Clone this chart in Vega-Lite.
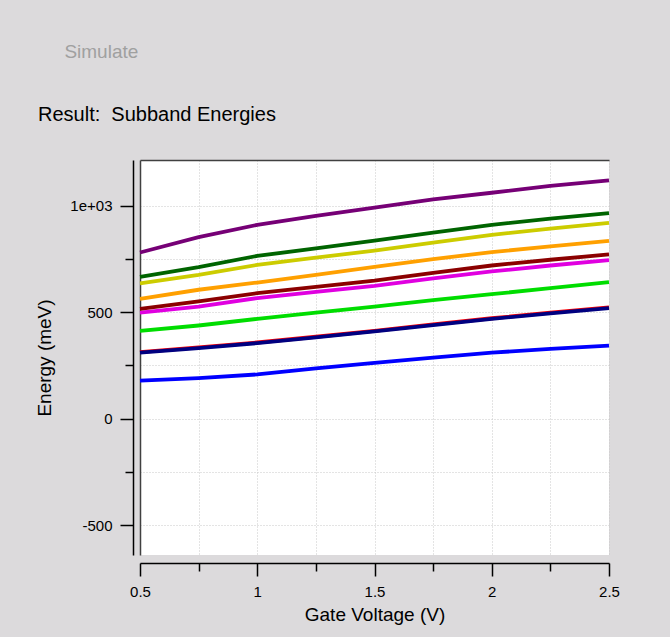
{
  "$schema": "https://vega.github.io/schema/vega-lite/v6.json",
  "width": 469,
  "height": 395,
  "autosize": {"type": "none"},
  "padding": {"left": 140, "top": 160, "right": 61, "bottom": 82},
  "background": "#dcdadc",
  "config": {"view": {"stroke": null, "fill": "white"}, "font": "Liberation Sans"},
  "title": {
    "text": "\u200b\u00a0\u00a0\u00a0\u00a0\u00a0Simulate",
    "subtitle": "Result:\u00a0\u00a0Subband Energies",
    "anchor": "start",
    "frame": "group",
    "dx": -102,
    "offset": 35,
    "fontSize": 19,
    "fontWeight": "normal",
    "color": "#a0a0a0",
    "subtitleColor": "black",
    "subtitleFontSize": 20,
    "subtitlePadding": 43,
    "font": "Liberation Sans",
    "subtitleFont": "Liberation Sans"
  },
  "datasets": {
    "d": [
      {"v": 0.5, "e": 179, "s": "E1"}, {"v": 0.75, "e": 191, "s": "E1"}, {"v": 1, "e": 208, "s": "E1"}, {"v": 1.25, "e": 236, "s": "E1"}, {"v": 1.5, "e": 262, "s": "E1"}, {"v": 1.75, "e": 287, "s": "E1"}, {"v": 2, "e": 310, "s": "E1"}, {"v": 2.25, "e": 328, "s": "E1"}, {"v": 2.5, "e": 343, "s": "E1"},
      {"v": 0.5, "e": 313, "s": "E2"}, {"v": 0.75, "e": 335, "s": "E2"}, {"v": 1, "e": 358, "s": "E2"}, {"v": 1.25, "e": 385, "s": "E2"}, {"v": 1.5, "e": 413, "s": "E2"}, {"v": 1.75, "e": 443, "s": "E2"}, {"v": 2, "e": 472, "s": "E2"}, {"v": 2.25, "e": 498, "s": "E2"}, {"v": 2.5, "e": 523, "s": "E2"},
      {"v": 0.5, "e": 310, "s": "E3"}, {"v": 0.75, "e": 332, "s": "E3"}, {"v": 1, "e": 355, "s": "E3"}, {"v": 1.25, "e": 382, "s": "E3"}, {"v": 1.5, "e": 410, "s": "E3"}, {"v": 1.75, "e": 440, "s": "E3"}, {"v": 2, "e": 469, "s": "E3"}, {"v": 2.25, "e": 495, "s": "E3"}, {"v": 2.5, "e": 520, "s": "E3"},
      {"v": 0.5, "e": 413, "s": "E4"}, {"v": 0.75, "e": 438, "s": "E4"}, {"v": 1, "e": 469, "s": "E4"}, {"v": 1.25, "e": 498, "s": "E4"}, {"v": 1.5, "e": 527, "s": "E4"}, {"v": 1.75, "e": 557, "s": "E4"}, {"v": 2, "e": 585, "s": "E4"}, {"v": 2.25, "e": 614, "s": "E4"}, {"v": 2.5, "e": 642, "s": "E4"},
      {"v": 0.5, "e": 498, "s": "E5"}, {"v": 0.75, "e": 527, "s": "E5"}, {"v": 1, "e": 567, "s": "E5"}, {"v": 1.25, "e": 596, "s": "E5"}, {"v": 1.5, "e": 624, "s": "E5"}, {"v": 1.75, "e": 660, "s": "E5"}, {"v": 2, "e": 692, "s": "E5"}, {"v": 2.25, "e": 720, "s": "E5"}, {"v": 2.5, "e": 745, "s": "E5"},
      {"v": 0.5, "e": 516, "s": "E6"}, {"v": 0.75, "e": 551, "s": "E6"}, {"v": 1, "e": 590, "s": "E6"}, {"v": 1.25, "e": 620, "s": "E6"}, {"v": 1.5, "e": 649, "s": "E6"}, {"v": 1.75, "e": 685, "s": "E6"}, {"v": 2, "e": 720, "s": "E6"}, {"v": 2.25, "e": 747, "s": "E6"}, {"v": 2.5, "e": 772, "s": "E6"},
      {"v": 0.5, "e": 563, "s": "E7"}, {"v": 0.75, "e": 606, "s": "E7"}, {"v": 1, "e": 640, "s": "E7"}, {"v": 1.25, "e": 676, "s": "E7"}, {"v": 1.5, "e": 714, "s": "E7"}, {"v": 1.75, "e": 750, "s": "E7"}, {"v": 2, "e": 783, "s": "E7"}, {"v": 2.25, "e": 810, "s": "E7"}, {"v": 2.5, "e": 836, "s": "E7"},
      {"v": 0.5, "e": 636, "s": "E8"}, {"v": 0.75, "e": 676, "s": "E8"}, {"v": 1, "e": 723, "s": "E8"}, {"v": 1.25, "e": 757, "s": "E8"}, {"v": 1.5, "e": 790, "s": "E8"}, {"v": 1.75, "e": 828, "s": "E8"}, {"v": 2, "e": 864, "s": "E8"}, {"v": 2.25, "e": 893, "s": "E8"}, {"v": 2.5, "e": 920, "s": "E8"},
      {"v": 0.5, "e": 667, "s": "E9"}, {"v": 0.75, "e": 712, "s": "E9"}, {"v": 1, "e": 765, "s": "E9"}, {"v": 1.25, "e": 800, "s": "E9"}, {"v": 1.5, "e": 837, "s": "E9"}, {"v": 1.75, "e": 875, "s": "E9"}, {"v": 2, "e": 911, "s": "E9"}, {"v": 2.25, "e": 940, "s": "E9"}, {"v": 2.5, "e": 966, "s": "E9"},
      {"v": 0.5, "e": 781, "s": "E10"}, {"v": 0.75, "e": 853, "s": "E10"}, {"v": 1, "e": 911, "s": "E10"}, {"v": 1.25, "e": 953, "s": "E10"}, {"v": 1.5, "e": 992, "s": "E10"}, {"v": 1.75, "e": 1031, "s": "E10"}, {"v": 2, "e": 1062, "s": "E10"}, {"v": 2.25, "e": 1094, "s": "E10"}, {"v": 2.5, "e": 1120, "s": "E10"}
    ]
  },
  "data": {"name": "d"},
  "layer": [
    {
      "transform": [{"filter": "datum.s === 'E2'"}],
      "mark": {"type": "line", "strokeWidth": 3.8},
      "encoding": {
        "x": {"field": "v", "type": "quantitative", "scale": {"domain": [0.5, 2.5], "nice": false, "zero": false},
          "axis": {"orient": "top", "offset": 0, "labels": false, "ticks": false, "grid": false, "title": null, "domainColor": "#404040", "domainWidth": 1.5}},
        "y": {"field": "e", "type": "quantitative", "scale": {"domain": [-641, 1216], "nice": false, "zero": false},
          "axis": {"orient": "left", "offset": 0, "labels": false, "ticks": false, "grid": false, "title": null, "domainColor": "#404040", "domainWidth": 1.5}},
        "color": {"field": "s", "type": "nominal", "legend": null,
          "scale": {"domain": ["E1", "E2", "E3", "E4", "E5", "E6", "E7", "E8", "E9", "E10"],
            "range": ["#0000ff", "#ff0000", "#000080", "#00dd00", "#e000e0", "#8b0000", "#ffa000", "#cccc00", "#006400", "#760076"]}}
      }
    },
    {
      "transform": [{"filter": "datum.s !== 'E2'"}],
      "mark": {"type": "line", "strokeWidth": 3.8},
      "encoding": {
        "x": {"field": "v", "type": "quantitative",
          "axis": {"orient": "bottom", "offset": 8, "title": "Gate Voltage (V)",
            "values": [0.5, 0.75, 1, 1.25, 1.5, 1.75, 2, 2.25, 2.5],
            "labelExpr": "datum.value % 0.5 === 0 ? toString(datum.value) : ''",
            "tickSize": {"condition": {"test": "datum.value % 0.5 === 0", "value": 13}, "value": 8},
            "tickColor": "black", "tickWidth": 1.5, "domainColor": "black", "domainWidth": 1.5,
            "labelFontSize": 15, "labelColor": "black", "labelPadding": 8, "labelFlush": false,
            "titleFontSize": 19, "titleFontWeight": "normal", "titleColor": "black", "titlePadding": 6,
            "grid": true, "gridColor": "#c8c8c8", "gridDash": [1, 2], "gridWidth": 1}},
        "y": {"field": "e", "type": "quantitative",
          "axis": {"orient": "left", "offset": 7, "title": "Energy (meV)",
            "values": [-500, -250, 0, 250, 500, 750, 1000],
            "labelExpr": "datum.value === 1000 ? '1e+03' : (datum.value % 500 === 0 ? toString(datum.value) : '')",
            "tickSize": {"condition": {"test": "datum.value % 500 === 0", "value": 13}, "value": 8},
            "tickColor": "black", "tickWidth": 1.5, "domainColor": "black", "domainWidth": 1.5,
            "labelFontSize": 15, "labelColor": "black", "labelPadding": 8,
            "titleFontSize": 19, "titleFontWeight": "normal", "titleColor": "black", "titlePadding": 15,
            "grid": true, "gridColor": "#c8c8c8", "gridDash": [1, 2], "gridWidth": 1}},
        "color": {"field": "s", "type": "nominal", "legend": null}
      }
    }
  ],
  "resolve": {"axis": {"x": "independent", "y": "independent"}}
}
